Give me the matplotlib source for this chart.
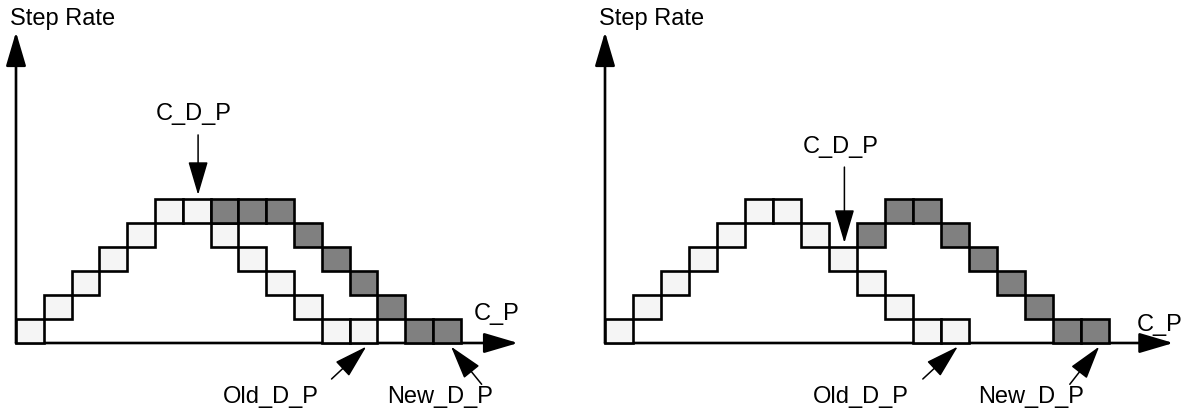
import matplotlib.pyplot as plt

plt.rcParams['font.family'] = ['Liberation Sans', 'DejaVu Sans']

# perfil antigo (igual nos dois quadros): coluna e nivel de cada passo
old_cols = [0, 1, 2, 3, 4, 5, 6, 7, 8, 9, 10, 11, 12]
old_levels = [0, 1, 2, 3, 4, 5, 5, 4, 3, 2, 1, 0, 0]

# novo perfil - quadro da esquerda
new_cols_left = [7, 8, 9, 10, 11, 12, 13, 14, 15]
new_levels_left = [5, 5, 5, 4, 3, 2, 1, 0, 0]

# novo perfil - quadro da direita
new_cols_right = [9, 10, 11, 12, 13, 14, 15, 16, 17]
new_levels_right = [4, 5, 5, 4, 3, 2, 1, 0, 0]

# coluna apontada por C_D_P
cdp_col_left = 6
cdp_col_right = 8

y_label = 'Step Rate'
x_label = 'C_P'
cdp_label = 'C_D_P'
old_label = 'Old_D_P'
new_label = 'New_D_P'

LIGHT = '#f5f5f5'
DARK = '#808080'
FS = 17
HEAD = '-|>,head_length=2.1,head_width=0.62'


def arrow(ax, tail, tip, lw):
    ax.annotate('', xy=tip, xytext=tail,
                arrowprops=dict(arrowstyle=HEAD, mutation_scale=10, lw=lw,
                                color='black', shrinkA=0, shrinkB=0))


def draw_panel(ax, new_cols, new_levels, cdp_col, x_end, cdp_text_y, cdp_top,
               new_tail_dx, new_label_dx, xlabel_pos):
    # eixos
    arrow(ax, (0, 0), (0, 12.96), 1.9)
    arrow(ax, (0, 0), (x_end, 0), 1.9)

    # degraus
    ax.bar(old_cols, 1, bottom=old_levels, width=1, align='edge',
           color=LIGHT, edgecolor='black', linewidth=1.9, zorder=3)
    ax.bar(new_cols, 1, bottom=new_levels, width=1, align='edge',
           color=DARK, edgecolor='black', linewidth=1.9, zorder=3)

    ax.text(-0.22, 13.5, y_label, fontsize=FS, ha='left', va='center')
    ax.text(xlabel_pos[0], xlabel_pos[1], x_label, fontsize=FS, ha='center', va='center')

    # C_D_P
    cx = cdp_col + 0.55
    ax.text(cx - 0.15, cdp_text_y, cdp_label, fontsize=FS, ha='center', va='center')
    arrow(ax, (cx, cdp_top), (cx, old_levels[cdp_col] + 1.17), 1.1)

    # Old_D_P
    ox = old_cols[-1] + 0.6
    arrow(ax, (ox - 1.25, -1.5), (ox, -0.15), 1.1)
    ax.text(old_cols[-1] - 2.85, -2.25, old_label, fontsize=FS, ha='center', va='center')

    # New_D_P
    nx = new_cols[-1] + 0.65
    arrow(ax, (nx + new_tail_dx, -1.72), (nx, -0.15), 1.1)
    ax.text(new_cols[-1] + new_label_dx, -2.25, new_label, fontsize=FS,
            ha='center', va='center')


fig = plt.figure(figsize=(11.89, 4.12), dpi=100)

# quadro da esquerda: origem em (16, 343) px, 27.8 px por coluna, 24 px por nivel
ax1 = fig.add_axes([0, 0, 590 / 1189, 1])
ax1.set_xlim(-16 / 27.8, (590 - 16) / 27.8)
ax1.set_ylim(-(412 - 343) / 24, 343 / 24)
ax1.axis('off')
draw_panel(ax1, new_cols_left, new_levels_left, cdp_col_left, 18.06,
           9.55, 8.67, 1.1, 0.25, (17.3, 1.2))

# quadro da direita: origem em (605, 343) px, 28 px por coluna
ax2 = fig.add_axes([590 / 1189, 0, 599 / 1189, 1])
ax2.set_xlim(-(605 - 590) / 28.0, (1189 - 605) / 28.0)
ax2.set_ylim(-(412 - 343) / 24, 343 / 24)
ax2.axis('off')
draw_panel(ax2, new_cols_right, new_levels_right, cdp_col_right, 20.3,
           8.15, 7.33, -1.05, -1.8, (19.8, 0.75))

fig.savefig('out.png', dpi=100)
